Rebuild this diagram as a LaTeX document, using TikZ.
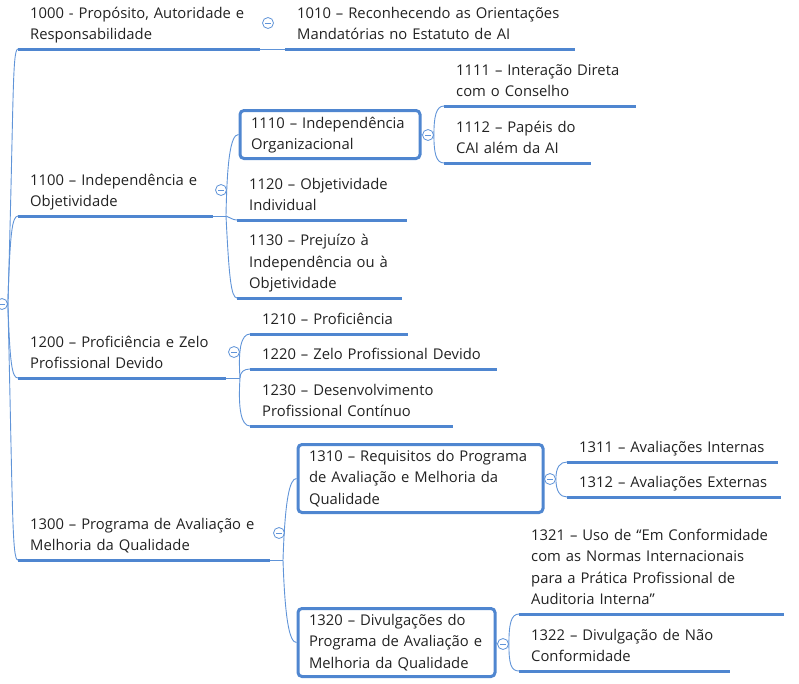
\documentclass[tikz,border=0pt]{standalone}
\usepackage{fontspec}
\setmainfont{Open Sans}
\definecolor{mapblue}{RGB}{79,134,208}
\definecolor{linkblue}{RGB}{96,148,216}
\definecolor{inkgrey}{RGB}{34,34,34}
\tikzset{
	mapfont/.style={font=\fontsize{14.8}{21.5}\selectfont, text=inkgrey, align=left,
		execute at begin node=\strut, execute at end node=\strut},
	underline/.style={draw=mapblue, line width=3pt},
	topic/.style={mapfont, anchor=south west, inner xsep=12pt, inner ysep=2.5pt,
		append after command={(\tikzlastnode.south west) edge[underline] (\tikzlastnode.south east)}},
	boxtopic/.style={mapfont, anchor=west, draw=mapblue, line width=3pt, rounded corners=4pt,
		inner xsep=11pt, inner ysep=0pt},
	branch/.style={draw=linkblue, line width=0.9pt},
	collapse/.style={circle, draw=linkblue, fill=white, line width=0.8pt, minimum size=11pt,
		inner sep=0pt, path picture={\draw[linkblue, line width=0.8pt]
		([xshift=-2.6pt]path picture bounding box.center) -- ([xshift=2.6pt]path picture bounding box.center);}}
}
\begin{document}
\begin{tikzpicture}[x=1pt,y=-1pt]
	\useasboundingbox (0,0) rectangle (799,683);

	\node[collapse] (mroot) at (2,304) {};

	\node[topic, text width=218pt] (t1000) at (18,49) {1000 - Propósito, Autoridade e\\Responsabilidade};
	\node[topic, text width=266pt] (t1010) at (285,49) {1010 – Reconhecendo as Orientações\\Mandatórias no Estatuto de AI};
	\node[collapse] (m1000) at (268,23) {};
	\draw[branch] (t1000.south east) -- (t1010.south west);

	\node[topic, text width=171pt] (t1100) at (18,216) {1100 – Independência e\\Objetividade};
	\node[collapse] (m1100) at (221,190) {};
	\coordinate (j1100) at (226,216);
	\node[boxtopic, text width=158pt, minimum height=48pt] (b1110) at (238.5,134.5) {1110 – Independência\\Organizacional};
	\node[topic, text width=146pt] (t1120) at (237,220) {1120 – Objetividade\\Individual};
	\node[topic, text width=141pt] (t1130) at (237,298) {1130 – Prejuízo à\\Independência ou à\\Objetividade};
	\node[collapse] (m1110) at (428,135) {};
	\node[topic, text width=168pt] (t1111) at (444,106) {1111 – Interação Direta\\com o Conselho};
	\node[topic, text width=123pt] (t1112) at (444,163) {1112 – Papéis do\\CAI além da AI};
	\draw[branch] (t1100.south east) -- (j1100);
	\draw[branch] (j1100) .. controls +(1,-55) and +(-8,0) .. (b1110.west);
	\draw[branch] (j1100) .. controls +(4,1) and +(-5,0) .. (t1120.south west);
	\draw[branch] (j1100) .. controls +(3,60) and +(-6,0) .. (t1130.south west);
	\draw[branch] (b1110.east) -- (m1110.west);
	\draw[branch] (m1110.east) .. controls +(0,-18) and +(-8,0) .. (t1111.south west);
	\draw[branch] (m1110.east) .. controls +(0,18) and +(-8,0) .. (t1112.south west);

	\node[topic, text width=184pt] (t1200) at (18,378) {1200 – Proficiência e Zelo\\Profissional Devido};
	\node[collapse] (m1200) at (234,352) {};
	\coordinate (j1200) at (240,378);
	\node[topic, text width=134pt] (t1210) at (250,334) {1210 – Proficiência};
	\node[topic, text width=223pt] (t1220) at (250,369) {1220 – Zelo Profissional Devido};
	\node[topic, text width=179pt] (t1230) at (250,426) {1230 – Desenvolvimento\\Profissional Contínuo};
	\draw[branch] (t1200.south east) -- (j1200);
	\draw[branch] (j1200) .. controls +(-2,-28) and +(-9,0) .. (t1210.south west);
	\draw[branch] (j1200) .. controls +(0,-6) and +(-6,0) .. (t1220.south west);
	\draw[branch] (j1200) .. controls +(-2,30) and +(-9,0) .. (t1230.south west);

	\node[topic, text width=228pt] (t1300) at (18,560) {1300 – Programa de Avaliação e\\Melhoria da Qualidade};
	\node[collapse] (m1300) at (279,533) {};
	\coordinate (j1300) at (283,560);
	\node[boxtopic, text width=223pt, minimum height=68pt] (b1310) at (296.5,478.5) {1310 – Requisitos do Programa\\de Avaliação e Melhoria da\\Qualidade};
	\node[boxtopic, text width=175pt, minimum height=68pt] (b1320) at (296.5,642.5) {1320 – Divulgações do\\Programa de Avaliação e\\Melhoria da Qualidade};
	\node[collapse] (m1310) at (550,479) {};
	\node[topic, text width=187pt] (t1311) at (567,462) {1311 – Avaliações Internas};
	\node[topic, text width=190pt] (t1312) at (567,497) {1312 – Avaliações Externas};
	\node[collapse] (m1320) at (503,644) {};
	\node[topic, text width=241pt] (t1321) at (519,614) {1321 – Uso de “Em Conformidade\\com as Normas Internacionais\\para a Prática Profissional de\\Auditoria Interna”};
	\node[topic, text width=187pt] (t1322) at (519,671) {1322 – Divulgação de Não\\Conformidade};
	\draw[branch] (t1300.south east) -- (j1300);
	\draw[branch] (j1300) .. controls +(2,-60) and +(-7,0) .. (b1310.west);
	\draw[branch] (j1300) .. controls +(2,60) and +(-7,0) .. (b1320.west);
	\draw[branch] (b1310.east) -- (m1310.west);
	\draw[branch] (m1310.east) .. controls +(0,-12) and +(-7,0) .. (t1311.south west);
	\draw[branch] (m1310.east) .. controls +(0,12) and +(-7,0) .. (t1312.south west);
	\draw[branch] (b1320.east) -- (m1320.west);
	\draw[branch] (m1320.east) .. controls +(0,-20) and +(-8,0) .. (t1321.south west);
	\draw[branch] (m1320.east) .. controls +(0,20) and +(-8,0) .. (t1322.south west);

	\draw[branch] (mroot.east) .. controls +(6,-200) and +(-6,0) .. (t1000.south west);
	\draw[branch] (mroot.east) .. controls +(2,-70) and +(-6,0) .. (t1100.south west);
	\draw[branch] (mroot.east) .. controls +(2,60) and +(-6,0) .. (t1200.south west);
	\draw[branch] (mroot.east) .. controls +(5,210) and +(-6,0) .. (t1300.south west);
\end{tikzpicture}
\end{document}
